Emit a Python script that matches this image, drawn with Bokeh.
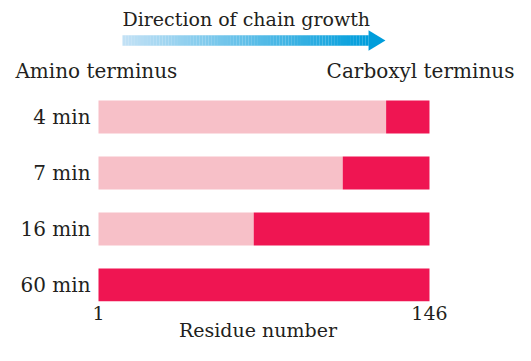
import numpy as np
from bokeh.plotting import figure
from bokeh.models import Range1d, FixedTicker
from bokeh.core.properties import value
from bokeh.embed import file_html
from bokeh.resources import INLINE

# ---- data ----
times = ["4 min", "7 min", "16 min", "60 min"]
first_residue = 1
last_residue = 146
# residue where the labelled (dark) C-terminal segment begins
label_start = [127, 108, 69, 1]

FONT = "DejaVu Serif"
FS = "19px"
FS_L = "20px"
TXT = "#231f20"
LIGHT = "#f7c0c8"
DARK = "#ef1552"

ypos = list(range(len(times)))

p = figure(width=515, height=345,
           x_range=Range1d(-41.93, 183.68), y_range=Range1d(3.2946, -2.0804),
           output_backend="svg", toolbar_location=None,
           min_border_left=0, min_border_right=0,
           min_border_top=0, min_border_bottom=44)
p.outline_line_color = None
p.grid.visible = False
p.yaxis.visible = False
p.background_fill_color = "white"
p.border_fill_color = "white"

# bars
p.hbar(y=ypos, left=[first_residue] * len(times), right=label_start,
       height=0.589, fill_color=LIGHT, line_color=None)
p.hbar(y=ypos, left=label_start, right=[last_residue] * len(times),
       height=0.589, fill_color=DARK, line_color=None)

# category labels
p.text(x=[-2.5] * len(times), y=ypos, text=times, text_font=value(FONT),
       text_font_size=FS_L, text_color=TXT, text_align="right",
       text_baseline="middle")

# x axis
xa = p.xaxis[0]
xa.ticker = FixedTicker(ticks=[first_residue, last_residue])
xa.axis_line_color = None
xa.major_tick_line_color = None
xa.minor_tick_line_color = None
xa.major_tick_out = 0
xa.major_label_text_font = FONT
xa.major_label_text_font_size = FS
xa.major_label_text_color = TXT
xa.major_label_standoff = 4
xa.axis_label = "Residue number"
xa.axis_label_text_font = FONT
xa.axis_label_text_font_size = FS
xa.axis_label_text_font_style = "normal"
xa.axis_label_text_color = TXT
xa.axis_label_standoff = -4

# direction arrow with gradient
x0, x1, xtip, yc = 11.5, 119.3, 126.7, -1.366
n = 80
edges = np.linspace(x0, x1, n + 1)
c0 = np.array([0xc4, 0xe2, 0xf6])
c1 = np.array([0x00, 0x9e, 0xdc])
cols = []
for i in range(n):
    t = (i + 0.5) / n
    c = (c0 * (1 - t) + c1 * t).astype(int)
    cols.append("#%02x%02x%02x" % tuple(c))
p.quad(left=edges[:-1], right=edges[1:] + 0.05, top=[yc - 0.095] * n,
       bottom=[yc + 0.095] * n, fill_color=cols, line_color=None)
p.patch([x1, xtip, x1], [yc - 0.184, yc, yc + 0.184], fill_color="#009ddb",
        line_color=None)

# annotations
p.text(x=[11.5], y=[-1.75], text=["Direction of chain growth"],
       text_font=value(FONT), text_font_size=FS, text_color=TXT,
       text_align="left", text_baseline="alphabetic")
p.text(x=[-35.4], y=[-0.83], text=["Amino terminus"],
       text_font=value(FONT), text_font_size=FS_L, text_color=TXT,
       text_align="left", text_baseline="alphabetic")
p.text(x=[183.2], y=[-0.83], text=["Carboxyl terminus"],
       text_font=value(FONT), text_font_size=FS_L, text_color=TXT,
       text_align="right", text_baseline="alphabetic")

open("out.html", "w").write(file_html(p, INLINE))
